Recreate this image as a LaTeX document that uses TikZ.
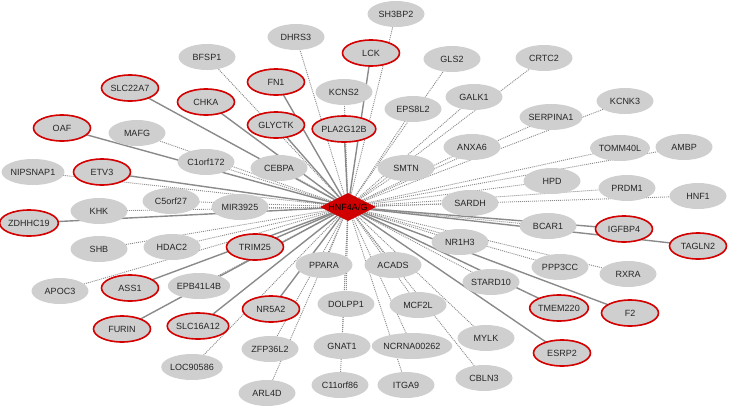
\documentclass[tikz,border=0pt]{standalone}
\usepackage{fontspec}
\setmainfont{Liberation Sans}
\usepackage{tikz}
\usetikzlibrary{shapes.geometric,backgrounds}
\definecolor{nodegrey}{HTML}{CFCFCF}
\definecolor{hubred}{HTML}{D00000}
\definecolor{ringred}{HTML}{D40000}
\definecolor{edgegrey}{HTML}{8A8A8A}
\definecolor{ink}{HTML}{262626}

\begin{document}
\begin{tikzpicture}[x=1pt,y=-1pt,font=\fontsize{9}{10}\selectfont,
 gene/.style={ellipse,fill=nodegrey,draw=none,text=ink,minimum width=57pt,minimum height=26pt,inner sep=0pt},
 hit/.style={gene,draw=ringred,line width=1.6pt},
 hub/.style={diamond,fill=hubred,text=black,minimum width=56pt,minimum height=28pt,inner sep=0pt,aspect=2},
 strong/.style={draw=edgegrey,line width=1.4pt},
 weak/.style={draw=edgegrey,line width=0.9pt,dash pattern=on 1pt off 1pt}]
\useasboundingbox (0,0) rectangle (729,407);
\node[hub] (hnf) at (348,207) {HNF4A/G};
% upper half
\node[gene] (sh3bp2) at (396,14) {SH3BP2};
\node[gene] (dhrs3) at (296,37) {DHRS3};
\node[hit] (lck) at (371,53) {LCK};
\node[gene] (gls2) at (452,59) {GLS2};
\node[hit] (fn1) at (276,82) {FN1};
\node[gene] (kcns2) at (344,92) {KCNS2};
\node[gene] (eps8l2) at (413,109) {EPS8L2};
\node[gene] (galk1) at (474,97) {GALK1};
\node[gene] (crtc2) at (544,58) {CRTC2};
\node[hit] (glyctk) at (276,125) {GLYCTK};
\node[hit] (pla2g12b) at (344,129) {PLA2G12B};
\node[gene] (serpina1) at (551,117) {SERPINA1};
\node[gene] (kcnk3) at (625,101) {KCNK3};
\node[gene] (bfsp1) at (207,57) {BFSP1};
\node[hit] (slc22a7) at (130,88) {SLC22A7};
\node[hit] (chka) at (206,102) {CHKA};
\node[hit] (oaf) at (62,128) {OAF};
\node[gene] (mafg) at (137,133) {MAFG};
\node[gene] (c1orf172) at (206,162) {C1orf172};
\node[gene] (cebpa) at (279,168) {CEBPA};
\node[gene] (smtn) at (406,168) {SMTN};
\node[gene] (anxa6) at (472,147) {ANXA6};
\node[gene] (tomm40l) at (620,148) {TOMM40L};
\node[gene] (ambp) at (684,147) {AMBP};
% middle band
\node[gene] (nipsnap1) at (33,172) {NIPSNAP1};
\node[hit] (etv3) at (102,172) {ETV3};
\node[gene] (hpd) at (552,181) {HPD};
\node[gene] (prdm1) at (627,188) {PRDM1};
\node[gene] (hnf1) at (698,196) {HNF1};
\node[gene] (sardh) at (470,203) {SARDH};
\node[gene] (c5orf27) at (171,201) {C5orf27};
\node[gene] (mir3925) at (240,207) {MIR3925};
\node[gene] (khk) at (99,211) {KHK};
\node[hit] (zdhhc19) at (29,223) {ZDHHC19};
\node[gene] (shb) at (99,249) {SHB};
\node[gene] (hdac2) at (172,247) {HDAC2};
\node[hit] (trim25) at (255,247) {TRIM25};
\node[gene] (bcar1) at (548,226) {BCAR1};
\node[hit] (igfbp4) at (624,229) {IGFBP4};
\node[hit] (tagln2) at (698,246) {TAGLN2};
\node[gene] (nr1h3) at (460,242) {NR1H3};
% lower half
\node[gene] (ppp3cc) at (560,267) {PPP3CC};
\node[gene] (rxra) at (628,274) {RXRA};
\node[gene] (stard10) at (491,282) {STARD10};
\node[hit] (tmem220) at (559,308) {TMEM220};
\node[hit] (f2) at (630,313) {F2};
\node[hit] (esrp2) at (562,353) {ESRP2};
\node[gene] (mylk) at (486,338) {MYLK};
\node[gene] (cbln3) at (484,378) {CBLN3};
\node[gene] (ppara) at (324,265) {PPARA};
\node[gene] (acads) at (393,265) {ACADS};
\node[gene] (dolpp1) at (346,304) {DOLPP1};
\node[gene] (mcf2l) at (418,305) {MCF2L};
\node[hit] (nr5a2) at (271,309) {NR5A2};
\node[gene] (zfp36l2) at (270,349) {ZFP36L2};
\node[gene] (gnat1) at (342,346) {GNAT1};
\node[gene] (ncrna) at (412,346) {NCRNA00262};
\node[gene] (arl4d) at (267,393) {ARL4D};
\node[gene] (c11orf86) at (340,385) {C11orf86};
\node[gene] (itga9) at (406,385) {ITGA9};
\node[gene] (apoc3) at (60,291) {APOC3};
\node[hit] (ass1) at (130,288) {ASS1};
\node[gene] (epb41l4b) at (199,286) {EPB41L4B};
\node[hit] (furin) at (122,329) {FURIN};
\node[hit] (slc16a12) at (198,326) {SLC16A12};
\node[gene] (loc90586) at (192,367) {LOC90586};
% edges from the hub, kept under the nodes
\begin{scope}[on background layer]
\draw[strong] (hnf.center) -- (lck.center);
\draw[strong] (hnf.center) -- (fn1.center);
\draw[strong] (hnf.center) -- (glyctk.center);
\draw[strong] (hnf.center) -- (pla2g12b.center);
\draw[strong] (hnf.center) -- (slc22a7.center);
\draw[strong] (hnf.center) -- (chka.center);
\draw[strong] (hnf.center) -- (oaf.center);
\draw[strong] (hnf.center) -- (etv3.center);
\draw[strong] (hnf.center) -- (zdhhc19.center);
\draw[strong] (hnf.center) -- (trim25.center);
\draw[strong] (hnf.center) -- (igfbp4.center);
\draw[strong] (hnf.center) -- (tagln2.center);
\draw[strong] (hnf.center) -- (tmem220.center);
\draw[strong] (hnf.center) -- (f2.center);
\draw[strong] (hnf.center) -- (esrp2.center);
\draw[strong] (hnf.center) -- (nr5a2.center);
\draw[strong] (hnf.center) -- (ass1.center);
\draw[strong] (hnf.center) -- (furin.center);
\draw[strong] (hnf.center) -- (slc16a12.center);
\draw[weak] (hnf.center) -- (sh3bp2.center);
\draw[weak] (hnf.center) -- (dhrs3.center);
\draw[weak] (hnf.center) -- (gls2.center);
\draw[weak] (hnf.center) -- (kcns2.center);
\draw[weak] (hnf.center) -- (eps8l2.center);
\draw[weak] (hnf.center) -- (galk1.center);
\draw[weak] (hnf.center) -- (crtc2.center);
\draw[weak] (hnf.center) -- (serpina1.center);
\draw[weak] (hnf.center) -- (kcnk3.center);
\draw[weak] (hnf.center) -- (bfsp1.center);
\draw[weak] (hnf.center) -- (mafg.center);
\draw[weak] (hnf.center) -- (c1orf172.center);
\draw[weak] (hnf.center) -- (cebpa.center);
\draw[weak] (hnf.center) -- (smtn.center);
\draw[weak] (hnf.center) -- (anxa6.center);
\draw[weak] (hnf.center) -- (tomm40l.center);
\draw[weak] (hnf.center) -- (ambp.center);
\draw[weak] (hnf.center) -- (nipsnap1.center);
\draw[weak] (hnf.center) -- (hpd.center);
\draw[weak] (hnf.center) -- (prdm1.center);
\draw[weak] (hnf.center) -- (hnf1.center);
\draw[weak] (hnf.center) -- (sardh.center);
\draw[weak] (hnf.center) -- (c5orf27.center);
\draw[weak] (hnf.center) -- (mir3925.center);
\draw[weak] (hnf.center) -- (khk.center);
\draw[weak] (hnf.center) -- (shb.center);
\draw[weak] (hnf.center) -- (hdac2.center);
\draw[weak] (hnf.center) -- (bcar1.center);
\draw[weak] (hnf.center) -- (nr1h3.center);
\draw[weak] (hnf.center) -- (ppp3cc.center);
\draw[weak] (hnf.center) -- (rxra.center);
\draw[weak] (hnf.center) -- (stard10.center);
\draw[weak] (hnf.center) -- (mylk.center);
\draw[weak] (hnf.center) -- (cbln3.center);
\draw[weak] (hnf.center) -- (ppara.center);
\draw[weak] (hnf.center) -- (acads.center);
\draw[weak] (hnf.center) -- (dolpp1.center);
\draw[weak] (hnf.center) -- (mcf2l.center);
\draw[weak] (hnf.center) -- (zfp36l2.center);
\draw[weak] (hnf.center) -- (gnat1.center);
\draw[weak] (hnf.center) -- (ncrna.center);
\draw[weak] (hnf.center) -- (arl4d.center);
\draw[weak] (hnf.center) -- (c11orf86.center);
\draw[weak] (hnf.center) -- (itga9.center);
\draw[weak] (hnf.center) -- (apoc3.center);
\draw[weak] (hnf.center) -- (epb41l4b.center);
\draw[weak] (hnf.center) -- (loc90586.center);
\end{scope}
\end{tikzpicture}
\end{document}
